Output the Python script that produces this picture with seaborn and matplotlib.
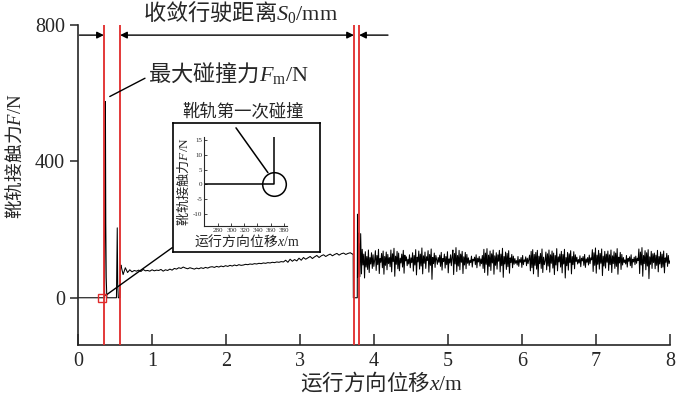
import numpy as np
import pandas as pd
import matplotlib
matplotlib.use("Agg")
import matplotlib.pyplot as plt
import seaborn as sns

# collision phase: flat, peak Fm, rebound, back to contact
col_x = [0, 0.36, 0.366, 0.371, 0.376, 0.382, 0.39, 0.52, 0.526, 0.531, 0.537, 0.545, 0.565, 0.575]
col_y = [0, 0, 300, 575, 220, 60, 0, 0, 120, 205, 40, 0, 0, 90]

# steady running before the second gap (0.58 .. 3.71 m)
drift_y = [96, 68, 88, 74,
           82, 76, 80, 78, 81, 77, 83, 79, 80, 78, 82, 79, 81, 80, 83, 78, 82, 80, 84, 81,
           86, 84, 88, 86, 90, 87, 85, 88, 86, 84, 87, 85, 88, 86, 89, 87, 90,
           91, 89, 92, 90, 93, 91, 94, 92, 95, 93, 96, 94, 97, 95, 96, 98, 97, 99, 98, 100,
           99, 101, 100, 102, 101, 103, 102, 104, 103, 105, 104, 106, 105,
           110, 104, 113, 107, 112, 108, 116, 110, 118, 113, 117, 121, 115, 120, 124, 118,
           123, 126, 121, 125, 128, 123, 127, 130, 125, 129, 131, 127, 130, 132, 128]

# second gap and re-contact
gap_x = [3.72, 3.722, 3.775, 3.778, 3.782, 3.786, 3.79, 3.795]
gap_y = [128, 0, 0, 245, 60, 190, 70, 160]

# vibrating contact after convergence (3.80 .. 8.00 m)
vib_y = [150, 62, 188, 70, 142, 96, 128, 58, 135, 90, 121, 83, 140, 74, 118, 99, 132, 86, 126, 92,
         110, 138, 80, 124, 97, 142, 71, 115, 104, 130, 88, 137, 69, 121, 95, 134, 82, 127, 100, 118,
         91, 140, 76, 129, 106, 145, 63, 122, 98, 136, 85, 131, 79, 116, 102, 128, 90, 139, 72, 125,
         108, 120, 94, 113, 99, 126, 88, 117, 103, 132, 78, 124, 96, 141, 67, 119, 105, 137, 84, 128,
         93, 146, 70, 123, 101, 134, 86, 120, 109, 138, 75, 127, 95, 143, 54, 118, 100, 131, 89, 124,
         112, 98, 118, 104, 125, 92, 133, 81, 115, 106, 128, 87, 121, 97, 135, 73, 114, 102, 126, 94,
         119, 140, 68, 130, 99, 147, 77, 124, 93, 139, 82, 128, 104, 136, 71, 120, 96, 133, 85, 127,
         101, 117, 95, 110, 103, 122, 90, 113, 108, 119, 97, 126, 88, 116, 105, 121, 93, 114, 100, 124,
         86, 142, 74, 131, 98, 144, 66, 125, 92, 137, 80, 129, 102, 140, 69, 123, 95, 132, 84, 126,
         107, 139, 76, 128, 94, 145, 60, 121, 99, 134, 83, 130, 91, 138, 72, 117, 103, 127, 88, 122,
         98, 115, 101, 109, 96, 121, 92, 112, 104, 118, 89, 124, 97, 111, 106, 120, 94, 116, 100, 113,
         125, 79, 136, 88, 141, 70, 127, 95, 133, 84, 139, 62, 122, 100, 130, 86, 143, 74, 119, 97,
         108, 134, 82, 129, 93, 140, 75, 126, 101, 137, 87, 131, 68, 124, 96, 144, 79, 120, 105, 128,
         90, 136, 73, 127, 99, 142, 58, 118, 94, 133, 81, 129, 103, 138, 70, 121, 97, 135, 85, 126,
         106, 119, 99, 112, 102, 123, 91, 116, 108, 121, 95, 127, 89, 114, 104, 118, 96, 125, 100, 117,
         111, 141, 77, 132, 95, 146, 72, 125, 98, 139, 84, 130, 101, 143, 65, 122, 93, 136, 87, 128,
         104, 137, 80, 126, 97, 140, 74, 123, 100, 135, 86, 131, 92, 144, 69, 119, 102, 133, 83, 127,
         96, 118, 103, 111, 99, 124, 90, 115, 107, 120, 94, 126, 88, 113, 105, 119, 97, 122, 101, 116,
         109, 143, 71, 134, 96, 147, 63, 124, 100, 138, 82, 132, 93, 141, 56, 120, 98, 136, 86, 129,
         103, 131, 85, 125, 95, 139, 76, 121, 99, 134, 88, 128, 90, 137, 73, 117, 104, 130, 92, 124,
         100, 108]

red_x = [0.35, 0.57, 3.73, 3.80]
first_hit = (0.33, 0)

# inset: zoom on first contact
in_x = [258, 365, 365]
in_y = [0, 0, 16]
in_hit = (365, 0)
in_xticks = [280, 300, 320, 340, 360, 380]
in_yticks = [-10, -5, 0, 5, 10, 15]

xs = col_x + list(np.linspace(0.58, 3.71, len(drift_y))) + gap_x + list(np.linspace(3.80, 8.0, len(vib_y)))
ys = col_y + drift_y + gap_y + vib_y
df = pd.DataFrame({"x": xs, "F": ys})

sns.set_style("ticks")
plt.rcParams["font.family"] = ["Liberation Serif", "Noto Sans CJK SC"]
# CJK labels use the CJK font for plain text; latin pieces in $..$ stay serif
plt.rcParams["mathtext.fontset"] = "custom"
plt.rcParams["mathtext.rm"] = "Liberation Serif"
plt.rcParams["mathtext.it"] = "Liberation Serif:italic"
plt.rcParams["mathtext.sf"] = "Liberation Serif"
plt.rcParams["axes.unicode_minus"] = False
cjk = "Noto Sans CJK SC"

red = "#e02a2a"
fig = plt.figure(figsize=(6.78, 3.95), dpi=100)
ax = fig.add_axes([0.115, 0.127, 0.873, 0.810])

sns.lineplot(data=df, x="x", y="F", estimator=None, sort=False, color="black", linewidth=0.75, ax=ax)
for rx in red_x:
    ax.axvline(rx, color=red, linewidth=1.3, zorder=3)
ax.plot([first_hit[0]], [first_hit[1]], marker="s", ms=6, mfc="none", mec=red, mew=1, zorder=4)

ax.set_xlim(0, 8)
ax.set_ylim(-138, 800)
ax.set_xticks(range(0, 9))
ax.set_yticks([0, 400, 800])
ax.tick_params(axis="x", direction="in", length=8, width=1.1, labelsize=14.5, pad=5)
ax.tick_params(axis="y", direction="out", length=6, width=1.1, labelsize=14.5)
for s in ["top", "right"]:
    ax.spines[s].set_visible(False)
for s in ["left", "bottom"]:
    ax.spines[s].set_linewidth(1.2)
ax.set_xlabel(r"运行方向位移$x\mathsf{/m}$", fontsize=15.5, family=cjk)
ax.set_ylabel(r"靴轨接触力$F\mathsf{/N}$", fontsize=13.5, family=cjk)
ax.xaxis.set_label_coords(0.513, -0.078)
ax.yaxis.set_label_coords(-0.088, 0.59)

# distance arrows on top
ay = 770
ax.annotate("", xy=(red_x[0], ay), xytext=(0.02, ay), annotation_clip=False,
            arrowprops=dict(arrowstyle="-|>", color="black", lw=1, shrinkA=0, shrinkB=0, mutation_scale=10))
ax.annotate("", xy=(red_x[2], ay), xytext=(red_x[1], ay), annotation_clip=False,
            arrowprops=dict(arrowstyle="<|-|>", color="black", lw=1, shrinkA=0, shrinkB=0, mutation_scale=10))
ax.annotate("", xy=(red_x[3], ay), xytext=(4.19, ay), annotation_clip=False,
            arrowprops=dict(arrowstyle="-|>", color="black", lw=1, shrinkA=0, shrinkB=0, mutation_scale=10))
ax.text(2.2, 838, r"收敛行驶距离$S_\mathsf{0}\mathsf{/mm}$", fontsize=16, family=cjk,
        ha="center", va="center", clip_on=False)

ax.annotate(r"最大碰撞力$F_\mathsf{m}\mathsf{/N}$", xy=(0.43, 590), xytext=(0.95, 660),
            fontsize=16, family=cjk, ha="left", va="center",
            arrowprops=dict(arrowstyle="-", color="black", lw=1, relpos=(0, 0.35), shrinkA=0, shrinkB=0))

# line from first contact to inset
ax.annotate("", xy=first_hit, xytext=(0.254, 0.373), textcoords="figure fraction",
            arrowprops=dict(arrowstyle="-", color="black", lw=1, shrinkA=0, shrinkB=3))

# inset frame
box = fig.add_axes([0.255, 0.362, 0.217, 0.327])
box.set_xticks([])
box.set_yticks([])
box.set_facecolor("white")
for s in box.spines.values():
    s.set_linewidth(1.2)
    s.set_color("black")

ins = fig.add_axes([0.301, 0.428, 0.122, 0.225])
ins.patch.set_alpha(0)
sns.lineplot(x=in_x, y=in_y, estimator=None, sort=False, color="black", linewidth=1.1, ax=ins)
ins.plot([in_hit[0]], [in_hit[1]], marker="o", ms=17, mfc="none", mec="black", mew=1.1)
ins.set_xlim(258, 385)
ins.set_ylim(-14, 16)
ins.set_xticks(in_xticks)
ins.set_yticks(in_yticks)
ins.tick_params(direction="in", length=2, width=0.6, labelsize=5, pad=1.5)
for s in ["top", "right"]:
    ins.spines[s].set_visible(False)
for s in ["left", "bottom"]:
    ins.spines[s].set_linewidth(0.8)
ins.set_xlabel(r"运行方向位移$x\mathsf{/m}$", fontsize=10, family=cjk, labelpad=0)
ins.set_ylabel(r"靴轨接触力$F\mathsf{/N}$", fontsize=9.5, family=cjk, labelpad=1)
ins.xaxis.set_label_coords(0.52, -0.07)
ins.annotate("靴轨第一次碰撞", xy=(356, 4), xytext=(0.359, 0.716), textcoords="figure fraction",
             fontsize=12.5, family=cjk, ha="center", va="center",
             arrowprops=dict(arrowstyle="-", color="black", lw=1.1, relpos=(0.4, 0), shrinkA=3, shrinkB=0))

fig.savefig("out.png", dpi=100)
